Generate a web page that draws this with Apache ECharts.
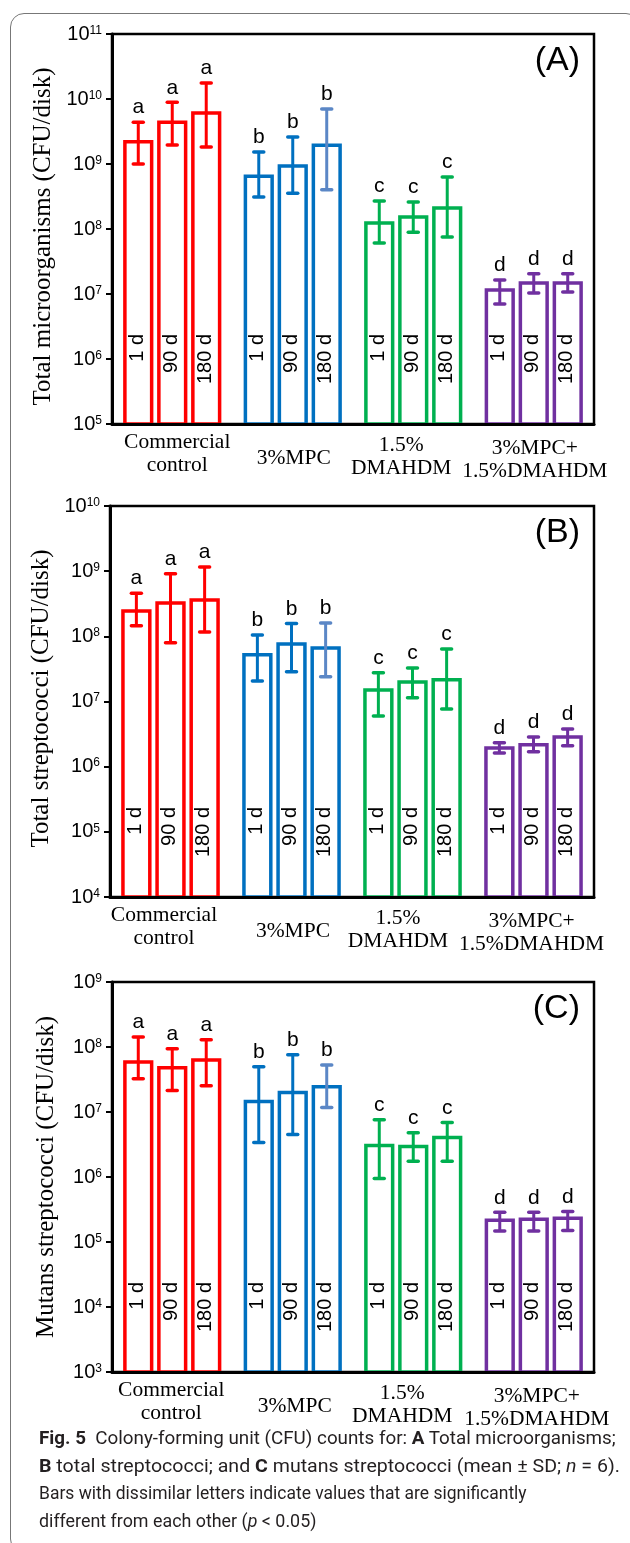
<!DOCTYPE html>
<html>
<head>
<meta charset="utf-8">
<script src="https://cdn.jsdelivr.net/npm/echarts@6/dist/echarts.min.js"></script>
<style>
html, body { margin:0; padding:0; background:#fff; width:630px; height:1543px; overflow:hidden; }
#frame { position:absolute; left:10px; top:13px; width:630px; height:1540px; border:1.5px solid #777; border-radius:14px; box-sizing:border-box; }
#chart { position:absolute; left:0; top:0; width:630px; height:1543px; }
#caption { position:absolute; left:39px; top:1424px; font-family:Roboto, "Noto Sans", sans-serif; font-size:19px; line-height:27.7px; color:#231f20; }
#caption .ln { white-space:nowrap; transform-origin:0 50%; }
</style>
</head>
<body>
<div id="frame"></div>
<div id="chart"></div>
<div id="caption">
  <div class="ln" style="transform:scaleX(0.99)"><b>Fig. 5</b>&nbsp; Colony-forming unit (CFU) counts for: <b>A</b> Total microorganisms;</div>
  <div class="ln" style="transform:scaleX(1.03)"><b>B</b> total streptococci; and <b>C</b> mutans streptococci (mean ± SD; <i>n</i> = 6).</div>
  <div class="ln" style="transform:scaleX(0.92)">Bars with dissimilar letters indicate values that are significantly</div>
  <div class="ln" style="transform:scaleX(0.94)">different from each other (<i>p</i> &lt; 0.05)</div>
</div>
<script>
// ---------- data ----------
const groups = ['Commercial\ncontrol', '3%MPC', '1.5%\nDMAHDM', '3%MPC+\n1.5%DMAHDM'];
const dayLabels = ['1 d', '90 d', '180 d'];
const groupLetters = ['a', 'b', 'c', 'd'];
const panelLabels = ['(A)', '(B)', '(C)'];
const yTitles = ['Total microorganisms (CFU/disk)', 'Total streptococci (CFU/disk)', 'Mutans streptococci (CFU/disk)'];
const yRangeA = [1e5, 1e11];
const yRangeB = [1e4, 1e10];
const yRangeC = [1e3, 1e9];

// order: Commercial 1d,90d,180d | 3%MPC 1d,90d,180d | 1.5%DMAHDM ... | 3%MPC+1.5%DMAHDM ...
const totalMicroMean = [2.2e9, 4.4e9, 6.1e9, 6.5e8, 9.3e8, 1.95e9, 1.24e8, 1.53e8, 2.1e8, 1.15e7, 1.48e7, 1.48e7];
const totalMicroHigh = [4.4e9, 8.9e9, 1.76e10, 1.53e9, 2.6e9, 7.0e9, 2.7e8, 2.6e8, 6.3e8, 1.64e7, 2.04e7, 2.04e7];
const totalMicroLow  = [1.0e9, 1.96e9, 1.83e9, 3.1e8, 3.55e8, 4.0e8, 6.1e7, 8.9e7, 7.5e7, 7.0e6, 1.04e7, 1.07e7];

const totalStrepMean = [2.45e8, 3.25e8, 3.6e8, 5.2e7, 7.6e7, 6.6e7, 1.5e7, 2.0e7, 2.15e7, 1.94e6, 2.16e6, 2.86e6];
const totalStrepHigh = [4.6e8, 9.1e8, 1.16e9, 1.05e8, 1.58e8, 1.6e8, 2.75e7, 3.27e7, 6.4e7, 2.32e6, 2.86e6, 3.8e6];
const totalStrepLow  = [1.45e8, 8.0e7, 1.17e8, 2.07e7, 2.85e7, 2.4e7, 6.0e6, 1.14e7, 7.7e6, 1.62e6, 1.69e6, 2.09e6];

const mutansMean = [5.9e7, 4.8e7, 6.3e7, 1.45e7, 1.99e7, 2.45e7, 3.05e6, 2.95e6, 4.05e6, 2.16e5, 2.24e5, 2.32e5];
const mutansHigh = [1.43e8, 9.4e7, 1.29e8, 4.97e7, 7.6e7, 5.3e7, 7.6e6, 4.8e6, 6.9e6, 2.87e5, 2.87e5, 2.95e5];
const mutansLow  = [3.25e7, 2.14e7, 2.54e7, 3.4e6, 4.5e6, 1.17e7, 9.5e5, 1.74e6, 1.74e6, 1.47e5, 1.47e5, 1.5e5];

// ---------- styling / layout ----------
const groupColors = ['#FF0000', '#0070C0', '#00B050', '#7030A0'];
const errColors = [
  ['#FF0000', '#FF0000', '#FF0000'],
  ['#0070C0', '#0070C0', '#5B87C6'],
  ['#00B050', '#00B050', '#00B050'],
  ['#7030A0', '#7030A0', '#7030A0']
];
const grids = [
  { left: 112, top: 34, width: 482, height: 390 },
  { left: 110, top: 506, width: 484, height: 391 },
  { left: 112, top: 982, width: 482, height: 390 }
];
const titleTops = [43.5, 516, 991.5];
const labelDx = [[5, 1, -12, 1], [-6.5, 1.5, -14.5, -2], [-1, 2, -11, 3]];
const labelTopPad = [0, 15.5, 2.5, 5.5];
const nameShift = [7.5, -3, 0];

const SANS = '"Liberation Sans", Arial, sans-serif';
const SERIF = '"Liberation Serif", "Times New Roman", serif';

function pad(dx, top) {
  return [top, dx < 0 ? -2 * dx : 0, 0, dx > 0 ? 2 * dx : 0];
}

function seriesData(mean, low, high) {
  return mean.map((m, i) => [Math.floor(i / 3), m, low[i], high[i], i % 3]);
}

function makeRender(yMin) {
  return function (params, api) {
    const g = api.value(0), m = api.value(1), lo = api.value(2), hi = api.value(3), d = api.value(4);
    const p0 = api.coord([g, m]);
    const band = api.coord([1, m])[0] - api.coord([0, m])[0];
    const pitch = band * 0.282, w = band * 0.222;
    const cx = p0[0] + (d - 1) * pitch;
    const yTop = p0[1];
    const yBase = api.coord([g, yMin])[1];
    const yHi = api.coord([g, hi])[1], yLo = api.coord([g, lo])[1];
    const col = groupColors[g], ec = errColors[g][d];
    const capW = 10;
    return {
      type: 'group',
      children: [
        { type: 'rect', shape: { x: cx - w / 2, y: yTop, width: w, height: yBase - yTop },
          style: { fill: '#fff', stroke: col, lineWidth: 3.5 } },
        { type: 'text', x: cx - 1, y: yBase - 90, rotation: Math.PI / 2,
          style: { text: dayLabels[d], align: 'right', verticalAlign: 'middle', font: '20px ' + SANS, fill: '#000' } },
        { type: 'line', shape: { x1: cx, y1: yHi, x2: cx, y2: yLo }, style: { stroke: ec, lineWidth: 3 } },
        { type: 'line', shape: { x1: cx - capW / 2, y1: yHi, x2: cx + capW / 2, y2: yHi },
          style: { stroke: ec, lineWidth: 3.5, lineCap: 'round' } },
        { type: 'line', shape: { x1: cx - capW / 2, y1: yLo, x2: cx + capW / 2, y2: yLo },
          style: { stroke: ec, lineWidth: 3.5, lineCap: 'round' } },
        { type: 'text', x: cx, y: yHi - 4,
          style: { text: groupLetters[g], align: 'center', verticalAlign: 'bottom', font: '21px ' + SANS, fill: '#000' } }
      ]
    };
  };
}

const ranges = [yRangeA, yRangeB, yRangeC];
const datasets = [
  seriesData(totalMicroMean, totalMicroLow, totalMicroHigh),
  seriesData(totalStrepMean, totalStrepLow, totalStrepHigh),
  seriesData(mutansMean, mutansLow, mutansHigh)
];

const option = {
  animation: false,
  title: panelLabels.map((t, i) => ({
    text: t, right: 50, top: titleTops[i], padding: 0,
    textStyle: { fontFamily: SANS, fontSize: 34, fontWeight: 'normal', color: '#000' }
  })),
  grid: grids.map(g => Object.assign({ show: true, borderColor: '#000', borderWidth: 2.5, backgroundColor: 'transparent' }, g)),
  xAxis: grids.map((g, i) => ({
    type: 'category', gridIndex: i, z: 5,
    data: groups.map((name, j) => ({ value: name, textStyle: { padding: pad(labelDx[i][j], labelTopPad[j]) } })),
    axisTick: { show: false },
    axisLine: { lineStyle: { color: '#000', width: 3 } },
    axisLabel: { interval: 0, fontFamily: SERIF, fontSize: 21.5, lineHeight: 23, color: '#000', margin: 7 }
  })),
  yAxis: grids.map((g, i) => ({
    type: 'log', logBase: 10, gridIndex: i, z: 5,
    min: ranges[i][0], max: ranges[i][1],
    name: yTitles[i], nameLocation: 'middle', nameRotate: 90, nameGap: 53,
    nameTextStyle: { fontFamily: SERIF, fontSize: 25, color: '#000',
      padding: nameShift[i] > 0 ? [0, 2 * nameShift[i], 0, 0] : [0, 0, 0, -2 * nameShift[i]] },
    splitLine: { show: false },
    minorTick: { show: false },
    axisLine: { show: true, lineStyle: { color: '#000', width: 3 } },
    axisTick: { show: true, inside: false, length: 6, lineStyle: { color: '#000', width: 2 } },
    axisLabel: {
      margin: 10, color: '#000',
      formatter: v => '{b|10}{s|' + Math.round(Math.log10(v)) + '}',
      rich: {
        b: { fontFamily: SANS, fontSize: 20, color: '#000' },
        s: { fontFamily: SANS, fontSize: 12, color: '#000', padding: [0, 0, 7, 0] }
      }
    }
  })),
  series: datasets.map((data, i) => ({
    type: 'custom', xAxisIndex: i, yAxisIndex: i,
    encode: { x: 0, y: 1 },
    renderItem: makeRender(ranges[i][0]),
    data: data
  }))
};

const chart = echarts.init(document.getElementById('chart'), null, { renderer: 'canvas' });
chart.setOption(option);
</script>
</body>
</html>
